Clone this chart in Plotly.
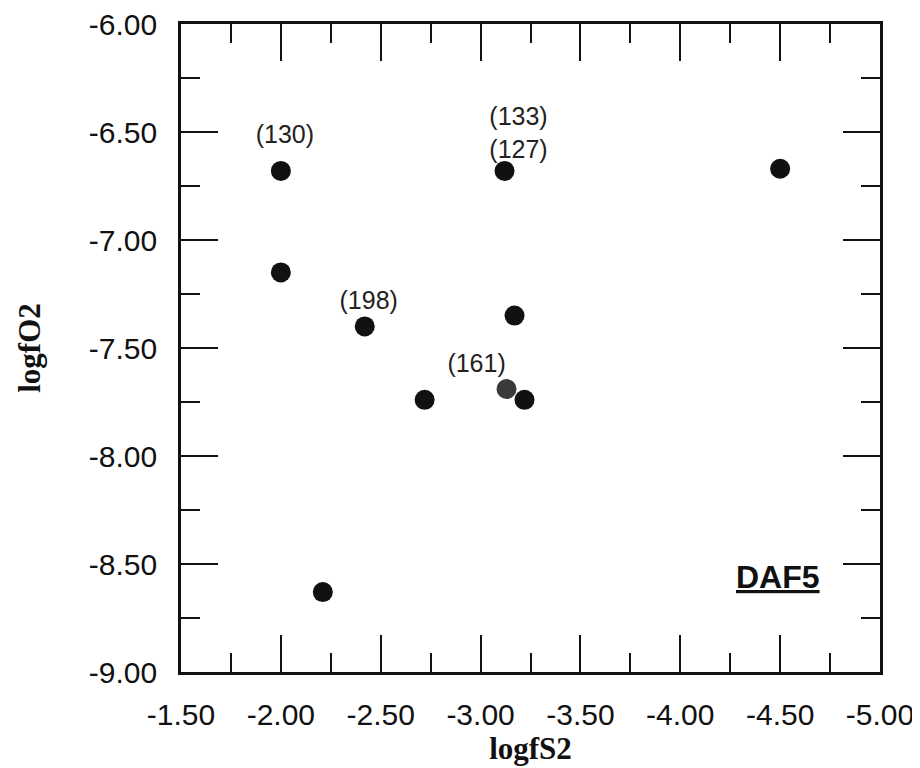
import plotly.graph_objects as go

log_fs2 = [-2.00, -2.00, -2.42, -2.72, -3.12, -3.17, -3.13, -3.22, -4.50, -2.21]
log_fo2 = [-6.68, -7.15, -7.40, -7.74, -6.68, -7.35, -7.69, -7.74, -6.67, -8.63]
point_colors = ["#111111"] * 6 + ["#3a3a3a"] + ["#111111"] * 3

label_x = [-2.02, -3.19, -3.19, -2.44, -2.98]
label_y = [-6.52, -6.44, -6.59, -7.29, -7.58]
label_text = ["(130)", "(133)", "(127)", "(198)", "(161)"]

x_ticks = [-1.5, -2.0, -2.5, -3.0, -3.5, -4.0, -4.5, -5.0]
y_ticks = [-6.0, -6.5, -7.0, -7.5, -8.0, -8.5, -9.0]

fig = go.Figure()
fig.add_trace(go.Scatter(
    x=log_fs2, y=log_fo2, mode="markers",
    marker=dict(size=20, color=point_colors, line=dict(width=0)),
    showlegend=False, hoverinfo="x+y"))
fig.add_trace(go.Scatter(
    x=label_x, y=label_y, mode="text", text=label_text,
    textfont=dict(family="Liberation Sans, Arial", size=25, color="#222"),
    showlegend=False, hoverinfo="skip"))

fig.add_annotation(x=-4.49, y=-8.56, text="<b><u>DAF5</u></b>", showarrow=False,
                   font=dict(family="Liberation Sans, Arial", size=32, color="#111"),
                   xanchor="center", yanchor="middle")

axis_font = dict(family="Liberation Sans, Arial", size=30, color="#111")
title_font = dict(family="Liberation Serif, Times New Roman", size=31, color="#111")

fig.update_xaxes(
    range=[-1.5, -5.0], tickvals=x_ticks, ticktext=[f"{v:.2f}" for v in x_ticks],
    ticks="inside", ticklen=37, tickwidth=2, tickcolor="#111",
    minor=dict(ticks="inside", ticklen=19, tickwidth=2, tickcolor="#111", dtick=0.25, tick0=-1.5, showgrid=False),
    showline=True, linecolor="#111", linewidth=2.5, mirror="ticks", showgrid=False, zeroline=False,
    tickfont=axis_font, ticklabelstandoff=14, ticklabeloverflow="allow", automargin=False,
    title=dict(text="<b>logfS2</b>", font=title_font, standoff=6))
fig.update_yaxes(
    range=[-9.0, -6.0], tickvals=y_ticks, ticktext=[f"{v:.2f}" for v in y_ticks],
    ticks="inside", ticklen=37, tickwidth=2, tickcolor="#111",
    minor=dict(ticks="inside", ticklen=19, tickwidth=2, tickcolor="#111", dtick=0.25, tick0=-6.0, showgrid=False),
    showline=True, linecolor="#111", linewidth=2.5, mirror="ticks", showgrid=False, zeroline=False,
    tickfont=axis_font, ticklabelstandoff=15, ticklabeloverflow="allow", automargin=False,
    title=dict(text="<b>logfO2</b>", font=title_font, standoff=40))

fig.update_layout(
    width=920, height=768, plot_bgcolor="white", paper_bgcolor="white",
    margin=dict(l=173, r=48, t=16, b=104, autoexpand=False))

fig.write_html("out.html")
